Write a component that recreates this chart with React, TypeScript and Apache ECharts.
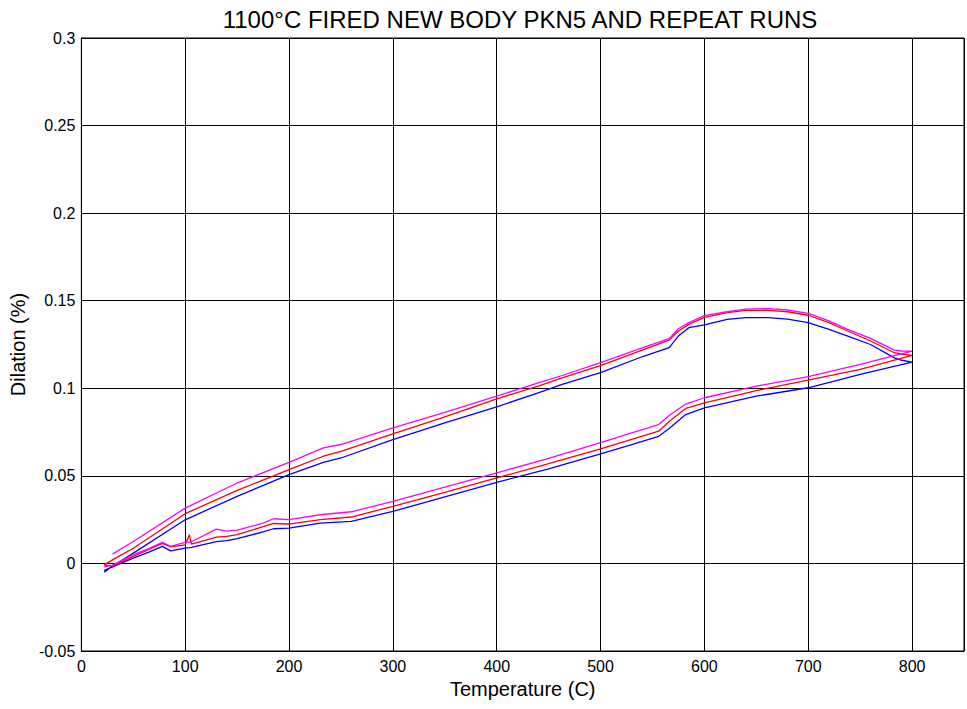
import React, { useEffect, useRef } from "react";
import * as echarts from "echarts";

const chartTitle = "1100°C FIRED NEW BODY PKN5 AND REPEAT RUNS";
const xName = "Temperature (C)";
const yName = "Dilation (%)";

// Heating branch (lower curves), temperature in °C
const heatT = [22, 30, 50, 65, 78, 86, 100, 104, 106, 130, 140, 150, 175, 185, 200, 230, 260, 300, 350, 400, 450, 500, 530, 556, 566, 582, 600, 650, 700, 750, 800];
const heatBlue = [-0.004, -0.002, 0.003, 0.0065, 0.0097, 0.0072, 0.0088, 0.009, 0.0092, 0.0125, 0.013, 0.0141, 0.018, 0.0198, 0.0202, 0.023, 0.024, 0.0297, 0.038, 0.0463, 0.054, 0.0625, 0.0679, 0.0726, 0.077, 0.085, 0.0888, 0.0955, 0.1003, 0.1079, 0.1149];
const heatRed = [-0.001, -0.0015, 0.004, 0.008, 0.0115, 0.0095, 0.0106, 0.0164, 0.011, 0.015, 0.0155, 0.0164, 0.021, 0.0228, 0.0225, 0.025, 0.0265, 0.0326, 0.0405, 0.0488, 0.057, 0.0654, 0.0708, 0.0755, 0.081, 0.0885, 0.0917, 0.0987, 0.1046, 0.1108, 0.1188];
const heatMagenta = [-0.002, -0.001, 0.005, 0.0085, 0.012, 0.0098, 0.012, 0.0122, 0.0124, 0.0196, 0.0185, 0.019, 0.023, 0.0255, 0.025, 0.0278, 0.0295, 0.0354, 0.0435, 0.0517, 0.06, 0.069, 0.0745, 0.0793, 0.0845, 0.091, 0.0946, 0.1012, 0.1066, 0.1136, 0.1212];

// Cooling branch (upper curves)
const coolT = [800, 790, 783, 760, 738, 720, 700, 680, 662, 640, 622, 600, 585, 575, 566, 540, 500, 463, 440, 400, 350, 300, 250, 233, 200, 150, 100, 50, 30, 22];
const coolBlue = [0.1149, 0.116, 0.1174, 0.125, 0.1298, 0.1336, 0.1375, 0.1395, 0.1403, 0.1403, 0.1394, 0.1362, 0.1346, 0.1298, 0.1232, 0.118, 0.1089, 0.1022, 0.0974, 0.0894, 0.0803, 0.0707, 0.0602, 0.0577, 0.0507, 0.0383, 0.0249, 0.0059, -0.0015, -0.005];
const coolRed = [0.1188, 0.1195, 0.1203, 0.127, 0.1327, 0.1375, 0.1417, 0.1437, 0.1445, 0.1445, 0.1432, 0.1405, 0.1365, 0.1327, 0.1275, 0.1218, 0.113, 0.106, 0.1012, 0.094, 0.0837, 0.074, 0.064, 0.0612, 0.0535, 0.0417, 0.0284, 0.0087, 0.002, -0.0008];
const coolMagenta = [0.1212, 0.1213, 0.1218, 0.1285, 0.1336, 0.1385, 0.1428, 0.1447, 0.1455, 0.1452, 0.1437, 0.1415, 0.1375, 0.134, 0.1283, 0.1231, 0.1146, 0.1073, 0.1031, 0.0955, 0.0863, 0.0774, 0.0679, 0.066, 0.0577, 0.0459, 0.0316, 0.0125, 0.0053, null];

const runNames = ["Run 1", "Run 2", "Run 3"];
const runColors = ["#0000ff", "#ff0000", "#ff00ff"];

const FONT = "Arial, 'Liberation Sans', Helvetica, sans-serif";

function buildRun(heat: (number | null)[], cool: (number | null)[]) {
  const pts: (number | null)[][] = [];
  heatT.forEach((t, i) => pts.push([t, heat[i]]));
  coolT.forEach((t, i) => {
    if (cool[i] !== null) pts.push([t, cool[i]]);
  });
  return pts;
}

export default function App() {
  const ref = useRef<HTMLDivElement>(null);

  useEffect(() => {
    if (!ref.current) return;
    const chart = echarts.init(ref.current, undefined, { renderer: "svg" });
    const runs = [
      buildRun(heatBlue, coolBlue),
      buildRun(heatRed, coolRed),
      buildRun(heatMagenta, coolMagenta),
    ];
    chart.setOption({
      animation: false,
      backgroundColor: "#ffffff",
      title: {
        text: chartTitle,
        left: 515,
        top: 2,
        textAlign: "center",
        textStyle: { fontFamily: FONT, fontSize: 24, fontWeight: "normal", color: "#000" },
      },
      grid: {
        left: 77,
        right: 3,
        top: 38,
        bottom: 58,
        show: true,
        borderColor: "#000",
        borderWidth: 1,
        backgroundColor: "transparent",
      },
      xAxis: {
        type: "value",
        min: 0,
        max: 850,
        interval: 100,
        name: xName,
        nameLocation: "middle",
        nameGap: 25,
        nameTextStyle: { fontFamily: FONT, fontSize: 20, color: "#000" },
        axisLine: { show: true, onZero: false, lineStyle: { color: "#000", width: 1 } },
        axisTick: { show: true, inside: true, length: 5, lineStyle: { color: "#000" } },
        axisLabel: {
          margin: 7,
          fontFamily: FONT,
          fontSize: 16,
          color: "#000",
          formatter: (v: number) => (v > 800 ? "" : String(v)),
        },
        splitLine: { show: true, lineStyle: { color: "#000", width: 1 } },
      },
      yAxis: {
        type: "value",
        min: -0.05,
        max: 0.3,
        interval: 0.05,
        name: yName,
        nameLocation: "middle",
        nameGap: 41,
        nameTextStyle: { fontFamily: FONT, fontSize: 20, color: "#000" },
        axisLine: { show: true, onZero: false, lineStyle: { color: "#000", width: 1 } },
        axisTick: { show: true, inside: true, length: 5, lineStyle: { color: "#000" } },
        axisLabel: {
          margin: 6,
          fontFamily: FONT,
          fontSize: 16,
          color: "#000",
          formatter: (v: number) => String(Math.round(v * 100) / 100),
        },
        splitLine: { show: true, lineStyle: { color: "#000", width: 1 } },
      },
      series: runs.map((data, i) => ({
        name: runNames[i],
        type: "line",
        data,
        showSymbol: false,
        symbol: "none",
        smooth: false,
        lineStyle: { color: runColors[i], width: 1.3 },
        itemStyle: { color: runColors[i] },
        z: 3 + i,
      })),
    });
    return () => chart.dispose();
  }, []);

  return (
    <div
      ref={ref}
      style={{ position: "absolute", left: 0, top: 0, width: 967, height: 709, background: "#fff" }}
    />
  );
}
